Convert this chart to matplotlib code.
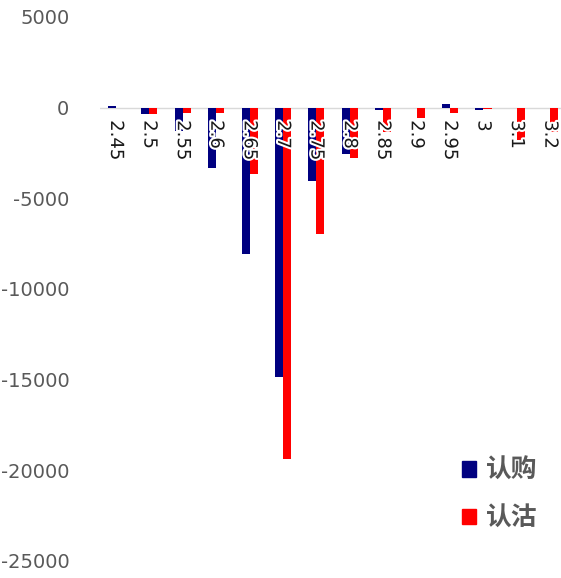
import numpy as np
import matplotlib.pyplot as plt
import matplotlib.patheffects as pe
from matplotlib.patches import Patch

plt.rcParams["axes.unicode_minus"] = False

strikes = ["2.45", "2.5", "2.55", "2.6", "2.65", "2.7", "2.75", "2.8",
           "2.85", "2.9", "2.95", "3", "3.1", "3.2"]
call_chg = [100, -360, -1300, -3300, -8050, -14850, -4050, -2550,
            -150, -30, 200, -150, -30, -30]
put_chg = [-30, -360, -300, -300, -3650, -19350, -6950, -2750,
           -1350, -550, -300, -50, -1800, -1350]

NAVY = "#000080"
RED = "#FF0000"
GREY = "#595959"

fig = plt.figure(figsize=(5.61, 5.78), dpi=100)
ax = fig.add_axes([100 / 561, 17 / 578, 461 / 561, 544 / 578])

x = np.arange(len(strikes))
w = 0.24
ax.bar(x - w / 2, call_chg, width=w, color=NAVY, label="认购", zorder=2)
ax.bar(x + w / 2, put_chg, width=w, color=RED, label="认沽", zorder=2)
ax.axhline(0, color="#D9D9D9", linewidth=1, zorder=1)

ax.set_ylim(-25000, 5000)
ax.set_xlim(-0.48, 13.32)
ax.set_yticks(np.arange(-25000, 5001, 5000))
ax.tick_params(axis="y", length=0, pad=22, labelsize=14, labelcolor=GREY)
ax.set_xticks([])
for s in ax.spines.values():
    s.set_visible(False)

# strike labels sit on the zero line, rotated, with a white halo over the bars
for xi, lab in zip(x, strikes):
    ax.annotate(lab, (xi, 0), xytext=(0, -9), textcoords="offset points",
                rotation=-90, ha="center", va="top", fontsize=13,
                color="#1a1a1a", zorder=3,
                path_effects=[pe.withStroke(linewidth=3, foreground="white")])

handles = [Patch(color=NAVY), Patch(color=RED)]
leg = fig.legend(handles, ["认购", "认沽"], loc="upper left",
                 bbox_to_anchor=(462 / 561, 1 - 457 / 578), frameon=False,
                 borderpad=0, borderaxespad=0, handlelength=0.55,
                 handleheight=0.55, handletextpad=0.4, labelspacing=0.8,
                 prop={"family": ["Noto Sans CJK SC", "DejaVu Sans"],
                       "size": 18.5, "weight": "bold"})
for t in leg.get_texts():
    t.set_color(GREY)

fig.savefig("out.png", dpi=100)
